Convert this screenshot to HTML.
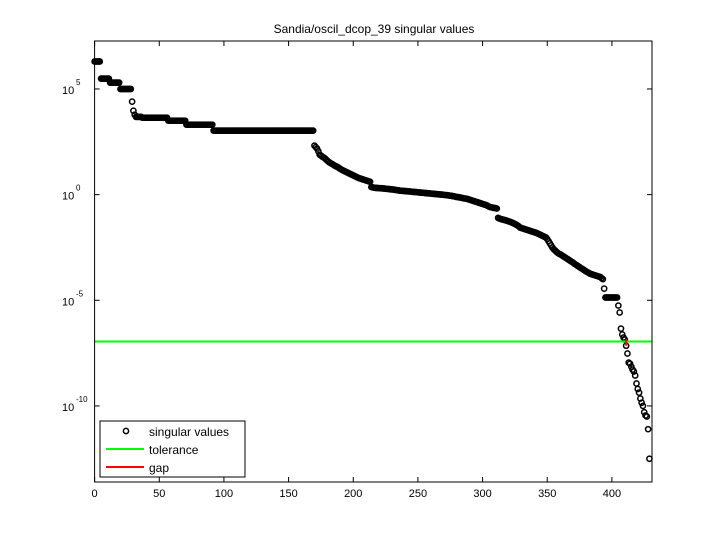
<!DOCTYPE html>
<html><head><meta charset="utf-8"><style>
body{margin:0;background:#fff;}
svg text{font-family:"Liberation Sans",sans-serif;fill:#000;}
</style></head><body>
<svg id="chart" width="720" height="540" xmlns="http://www.w3.org/2000/svg">
<rect width="720" height="540" fill="#fff"/>
<text x="374" y="33" font-size="12" text-anchor="middle">Sandia/oscil_dcop_39 singular values</text>
<g id="marks"></g>
<g id="axes"></g>
</svg>
<script>
// log10 of singular values, index 0..429
const logValues = [
6.3,6.3,6.3,6.3,6.3,5.49,5.49,5.49,5.49,5.49,
5.49,5.49,5.3,5.3,5.3,5.3,5.3,5.3,5.3,5.3,
5.0,5.0,5.0,5.0,5.0,5.0,5.0,5.0,5.0,4.4,
3.97,3.78,3.68,3.68,3.68,3.68,3.68,3.64,3.64,3.64,
3.64,3.64,3.64,3.64,3.64,3.64,3.64,3.64,3.64,3.64,
3.64,3.64,3.64,3.64,3.64,3.64,3.64,3.5,3.5,3.5,
3.5,3.5,3.5,3.5,3.5,3.5,3.5,3.5,3.5,3.5,
3.5,3.31,3.31,3.31,3.31,3.31,3.31,3.31,3.31,3.31,
3.31,3.31,3.31,3.31,3.31,3.31,3.31,3.31,3.31,3.31,
3.31,3.31,3.03,3.03,3.03,3.03,3.03,3.03,3.03,3.03,
3.03,3.03,3.03,3.03,3.03,3.03,3.03,3.03,3.03,3.03,
3.03,3.03,3.03,3.03,3.03,3.03,3.03,3.03,3.03,3.03,
3.03,3.03,3.03,3.03,3.03,3.03,3.03,3.03,3.03,3.03,
3.03,3.03,3.03,3.03,3.03,3.03,3.03,3.03,3.03,3.03,
3.03,3.03,3.03,3.03,3.03,3.03,3.03,3.03,3.03,3.03,
3.03,3.03,3.03,3.03,3.03,3.03,3.03,3.03,3.03,3.03,
3.03,3.03,3.03,3.03,3.03,3.03,3.03,3.03,3.03,3.03,
2.32,2.25,2.18,2.05,1.89,1.85,1.8,1.76,1.72,1.66,
1.6,1.55,1.51,1.47,1.44,1.4,1.36,1.33,1.3,1.26,
1.22,1.18,1.15,1.12,1.09,1.06,1.03,1.0,0.97,0.94,
0.91,0.88,0.85,0.82,0.79,0.77,0.75,0.73,0.71,0.69,
0.67,0.65,0.63,0.61,0.36,0.34,
0.33,0.32,0.32,0.31,0.31,0.3,0.3,0.29,0.29,0.28,
0.27,0.27,0.26,0.25,0.25,0.24,0.23,0.22,0.21,0.2,
0.19,0.18,0.18,0.17,0.17,0.16,0.16,0.15,0.15,0.14,
0.13,0.13,0.12,0.12,0.11,0.1,0.1,0.09,0.09,0.08,
0.07,0.07,0.06,0.06,0.05,0.04,0.04,0.03,0.03,0.02,
0.01,0.01,0,0,-0.01,-0.02,-0.02,-0.03,-0.04,-0.05,
-0.06,-0.07,-0.08,-0.1,-0.11,-0.12,-0.13,-0.14,-0.15,-0.17,-0.18,-0.19,-0.2,-0.22,-0.24,
-0.26,-0.28,-0.3,-0.32,-0.34,-0.36,-0.38,-0.4,-0.42,-0.44,-0.46,-0.48,-0.5,-0.53,-0.57,-0.59,-0.6,-0.62,-0.63,-0.64,-0.66,-1.1,
-1.13,-1.15,-1.17,-1.19,-1.2,-1.22,-1.24,-1.26,-1.28,-1.3,-1.33,-1.36,-1.39,-1.42,-1.46,-1.5,-1.56,
-1.58,-1.6,-1.62,-1.64,-1.66,-1.68,-1.7,-1.72,-1.74,-1.76,-1.78,-1.8,-1.82,-1.85,-1.88,-1.91,-1.94,-1.97,-2.0,-2.03,
-2.1,-2.2,-2.3,-2.4,-2.5,-2.58,-2.64,-2.7,-2.75,-2.79,-2.82,-2.86,
-2.9,-2.94,-2.98,-3.02,-3.06,-3.1,-3.14,-3.18,-3.22,-3.27,-3.31,-3.35,-3.39,-3.43,-3.47,-3.51,-3.55,-3.59,-3.63,-3.67,-3.7,-3.74,
-3.76,-3.78,-3.8,-3.82,-3.84,-3.86,-3.88,-3.9,-3.95,-4.0,
-4.45,
-4.87,-4.87,-4.87,-4.87,-4.87,-4.87,-4.87,-4.87,-4.87,-4.87,
-5.25,-5.58,-6.34,-6.62,-6.76,-6.86,-7.15,-7.52,-7.95,-8.0,
-8.14,-8.28,-8.37,-8.56,-8.94,-9.2,-9.37,-9.65,-9.85,-10.0,
-10.3,-10.45,-10.5,-11.1,-12.5
];
const toleranceLog = [-6.95];
const gapIndex = [410];
const xTicks = [0,50,100,150,200,250,300,350,400];
const yTickExps = [5,0,-5,-10];

const L=94.6,R=652,T=41,B=482;
const xMax=431, yMinLog=-13.6, yMaxLog=7.27;
const NS="http://www.w3.org/2000/svg";
function xs(i){return L+(i/xMax)*(R-L);}
function ys(v){return B-(v-yMinLog)/(yMaxLog-yMinLog)*(B-T);}
function mk(tag,attrs,parent){const e=document.createElementNS(NS,tag);for(const k in attrs)e.setAttribute(k,attrs[k]);parent.appendChild(e);return e;}
const marks=document.getElementById('marks');
const axes=document.getElementById('axes');

logValues.forEach((v,i)=>{
  const c=mk('circle',{cx:xs(i),cy:ys(v),r:2.6,fill:'none',stroke:'#000','stroke-width':1.5},marks);
  
  
});
const tol=mk('line',{x1:L,x2:R,y1:ys(toleranceLog[0]),y2:ys(toleranceLog[0]),stroke:'#00ff00','stroke-width':2},marks);


const g=gapIndex[0];
const gap=mk('line',{x1:xs(g+1),x2:xs(g+1),y1:ys(logValues[g]),y2:ys(logValues[g+1]),stroke:'#ff0000','stroke-width':2},marks);



const frame=mk('rect',{x:L,y:T,width:R-L,height:B-T,fill:'none',stroke:'#000','stroke-width':1},axes);


xTicks.forEach(t=>{
  const x=xs(t);
  mk('line',{x1:x,x2:x,y1:B,y2:B-5,stroke:'#000'},axes);
  mk('line',{x1:x,x2:x,y1:T,y2:T+5,stroke:'#000'},axes);
  const tx=mk('text',{x:x,y:B+15,'font-size':11,'text-anchor':'middle'},axes);
  tx.textContent=t;
  
  
});
yTickExps.forEach(e=>{
  const y=ys(e);
  mk('line',{x1:L,x2:L+5,y1:y,y2:y,stroke:'#000'},axes);
  mk('line',{x1:R,x2:R-5,y1:y,y2:y,stroke:'#000'},axes);
  const tx=mk('text',{x:62,y:y+5,'font-size':11},axes);
  tx.textContent='10';
  
  
  const sp=mk('text',{x:76,y:y-4,'font-size':8},axes);
  sp.textContent=e;
  
  
});

// legend
const lg=mk('g',{},axes);


mk('rect',{x:100,y:421,width:145,height:56,fill:'#fff',stroke:'#000'},lg);
mk('circle',{cx:126,cy:431,r:2.6,fill:'none',stroke:'#000','stroke-width':1.5},lg);
mk('line',{x1:106,x2:144,y1:449,y2:449,stroke:'#00ff00','stroke-width':2},lg);
mk('line',{x1:106,x2:144,y1:467,y2:467,stroke:'#ff0000','stroke-width':2},lg);
[['singular values',436],['tolerance',454],['gap',472]].forEach(([s,y])=>{
  const t=mk('text',{x:149,y:y,'font-size':12},lg);
  t.textContent=s;
  
  
});
</script>
</body></html>
